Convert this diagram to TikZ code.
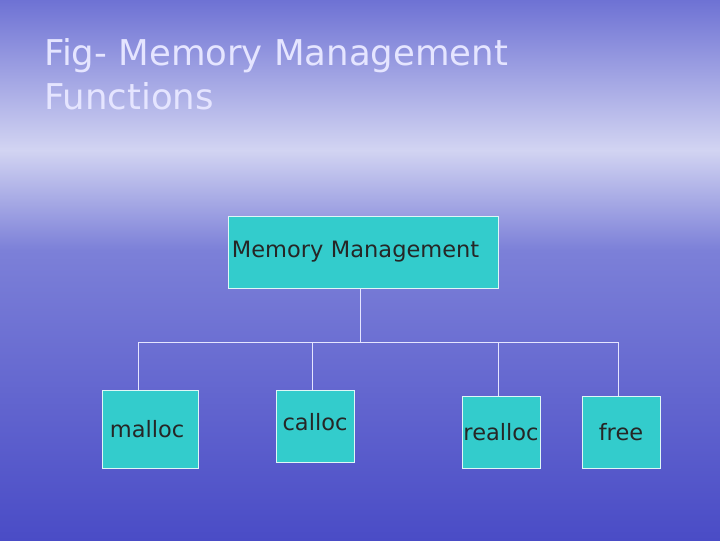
\documentclass[tikz,border=0pt]{standalone}
\usepackage{fontspec}
\setmainfont{DejaVu Sans}
\usetikzlibrary{positioning,calc}
\definecolor{boxcyan}{HTML}{33CCCC}
\definecolor{skytop}{HTML}{6E72D4}
\definecolor{skyhaze}{HTML}{D2D4F2}
\definecolor{seamid}{HTML}{7C80D8}
\definecolor{seadeep}{HTML}{4A4CC6}
\begin{document}
\begin{tikzpicture}[x=0.3514mm,y=-0.3514mm,
fn/.style={
% The shape:
rectangle,
% The border:
draw=white!85!boxcyan, thin,
% The filling:
fill=boxcyan,
% Font
font=\fontsize{22.5}{26}\selectfont, text=black!85
},
tree/.style={draw=white!90!blue, line width=0.6pt}]

% sky and sea
\useasboundingbox (0,0) rectangle (720,540);
\shade[top color=skytop, bottom color=skyhaze] (0,0) rectangle (720,150);
\shade[top color=skyhaze, bottom color=seamid] (0,150) rectangle (720,250);
\shade[top color=seamid, bottom color=seadeep] (0,250) rectangle (720,540);

\node (title) [anchor=north west, align=left, text=white!90!blue,
  font=\fontsize{35.5}{44}\selectfont, inner sep=0pt] at (44,38)
  {Fig- Memory Management\\Functions};

\node (mm) [fn, minimum width=270, minimum height=72, text width=262, align=left] at (363,252) {Memory Management};
\node (malloc) [fn, minimum width=96, minimum height=78, text width=80, align=left] at (150,429) {malloc};
\node (calloc) [fn, minimum width=78, minimum height=72, text depth=8] at (315,426) {calloc};
\node (realloc) [fn, minimum width=78, minimum height=72, inner xsep=0pt, text width=78, align=center] at (501,432) {realloc};
\node (free) [fn, minimum width=78, minimum height=72] at (621,432) {free};

\coordinate (bus) at (360,342);
\draw [tree] (mm.south -| bus) -- (bus);
\draw [tree] (bus) -| ([xshift=-12]malloc.north);
\draw [tree] (bus) -| ([xshift=-3]calloc.north);
\draw [tree] (bus) -| ([xshift=-3]realloc.north);
\draw [tree] (bus) -| ([xshift=-3]free.north);
\end{tikzpicture}
\end{document}
